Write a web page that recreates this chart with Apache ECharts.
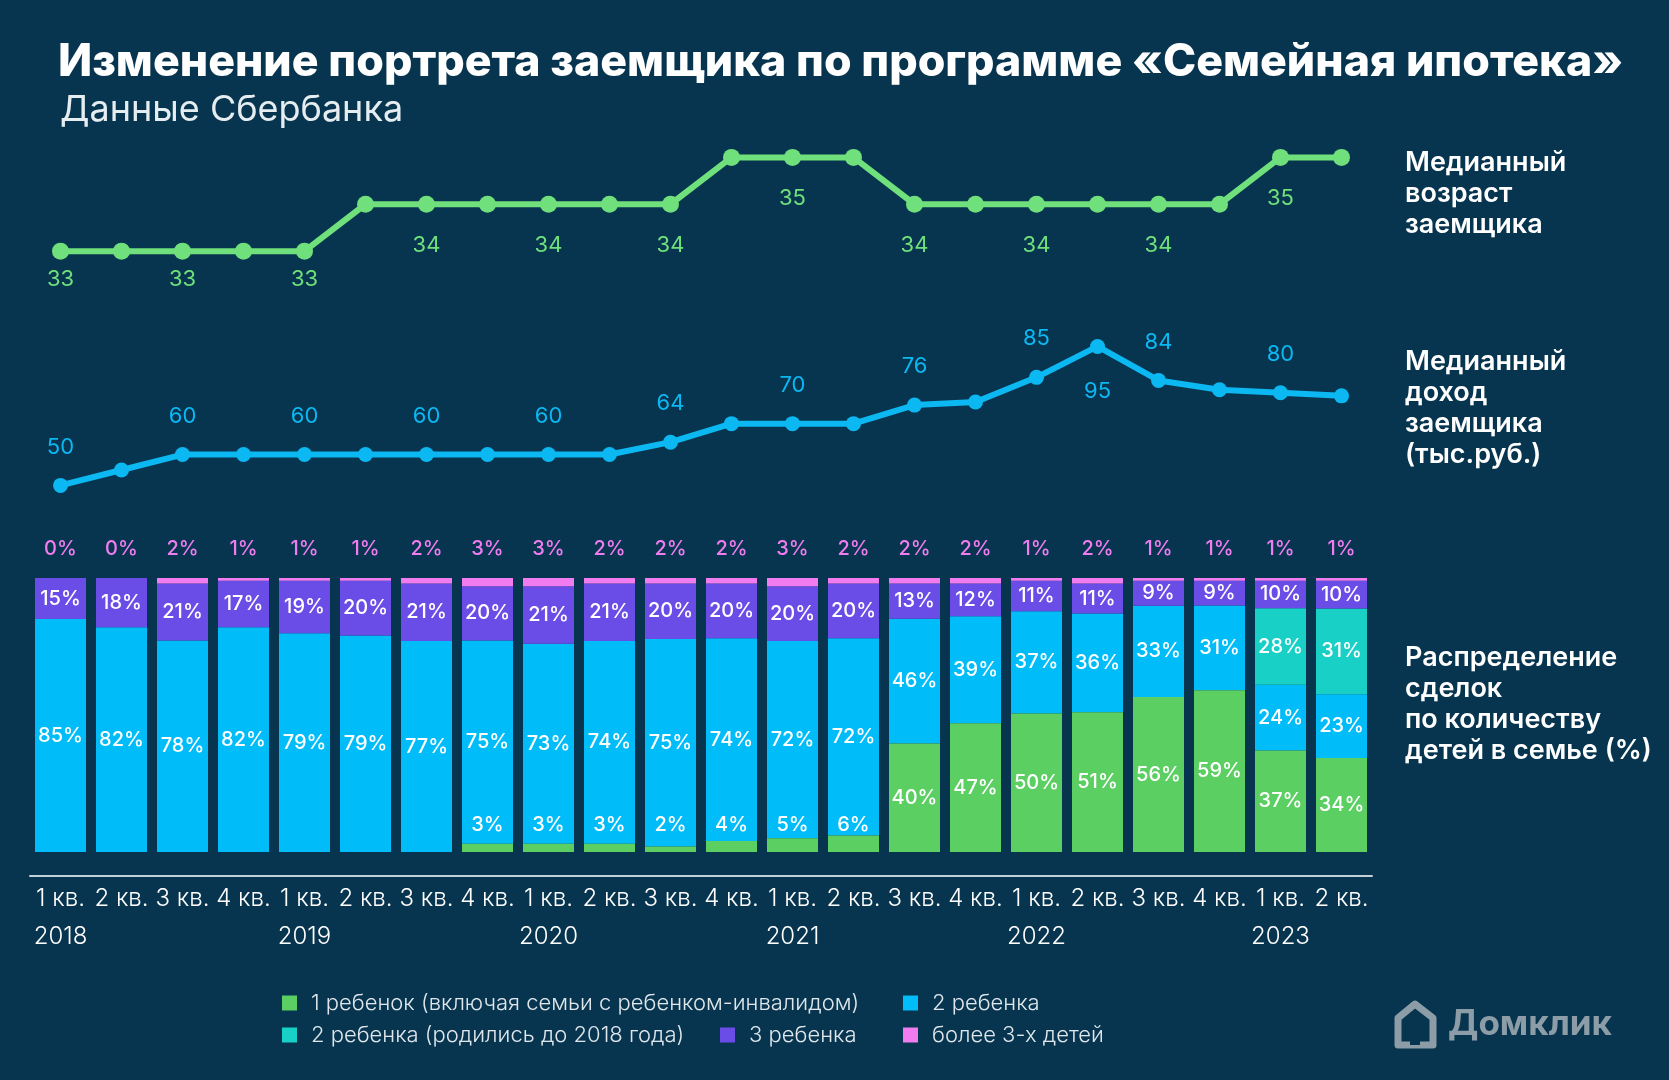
<!DOCTYPE html>
<html>
<head>
<meta charset="utf-8">
<script src="https://cdn.jsdelivr.net/npm/echarts@6/dist/echarts.min.js"></script>
<style>
html,body{margin:0;padding:0;background:#07354f;}
#c{width:1669px;height:1080px;}
</style>
</head>
<body>
<div id="c"></div>
<script>
// ---------- DATA ----------
const quarters = ['1 кв.','2 кв.','3 кв.','4 кв.','1 кв.','2 кв.','3 кв.','4 кв.','1 кв.','2 кв.','3 кв.','4 кв.','1 кв.','2 кв.','3 кв.','4 кв.','1 кв.','2 кв.','3 кв.','4 кв.','1 кв.','2 кв.'];
const years = ['2018','','','','2019','','','','2020','','','','2021','','','','2022','','','','2023',''];

const medianAge = [33,33,33,33,33,34,34,34,34,34,34,35,35,35,34,34,34,34,34,34,35,35];
const ageLabelShown = [1,0,1,0,1,0,1,0,1,0,1,0,1,0,1,0,1,0,1,0,1,0];

const medianIncome = [50,55,60,60,60,60,60,60,60,60,64,70,70,70,76,77,85,95,84,81,80,79];
const incomeLabelShown = [1,0,1,0,1,0,1,0,1,0,1,0,1,0,1,0,1,1,1,0,1,0];
const incomeLabelBelow = [0,0,0,0,0,0,0,0,0,0,0,0,0,0,0,0,0,1,0,0,0,0];

const oneChild      = [0,0,0,0,0,0,0,3,3,3,2,4,5,6,40,47,50,51,56,59,37,34];
const twoChildren   = [85,82,78,82,79,79,77,75,73,74,75,74,72,72,46,39,37,36,33,31,24,23];
const twoBefore2018 = [0,0,0,0,0,0,0,0,0,0,0,0,0,0,0,0,0,0,0,0,28,31];
const threeChildren = [15,18,21,17,19,20,21,20,21,21,20,20,20,20,13,12,11,11,9,9,10,10];
const moreThanThree = [0,0,2,1,1,1,2,3,3,2,2,2,3,2,2,2,1,2,1,1,1,1];

const seriesNames = [
  '1 ребенок (включая семьи с ребенком-инвалидом)',
  '2 ребенка',
  '2 ребенка (родились до 2018 года)',
  '3 ребенка',
  'более 3-х детей'
];

// ---------- STYLE ----------
const FONT = 'Inter, "Noto Sans", sans-serif';
const C_GREEN = '#5ccf63', C_BLUE = '#00bcf9', C_TEAL = '#18d0c6', C_PURPLE = '#6a4de6', C_PINK = '#f07cf0';
const C_AGE = '#6fe07b', C_INC = '#0bb8f2';
const GL = 30, GR = 297;

const chart = echarts.init(document.getElementById('c'));

// each bar is drawn as a share of its own total (rounded source shares do not add up to exactly 100)
const stackArrays = [oneChild, twoChildren, twoBefore2018, threeChildren, moreThanThree];
const totals = quarters.map((_, i) => stackArrays.reduce((s, a) => s + a[i], 0));
const shares = arr => arr.map((v, i) => v * 100 / totals[i]);

function pctLabel(arr) {
  return p => (arr[p.dataIndex] ? arr[p.dataIndex] + '%' : '');
}
function barLabel(arr) {
  return {
    show: true, position: 'inside', color: '#ffffff', fontFamily: FONT, fontSize: 20, fontWeight: 500,
    formatter: pctLabel(arr)
  };
}

function legendAt(name, left, top) {
  return {
    data: [name], left: left, top: top, padding: 0, orient: 'horizontal',
    icon: 'rect', itemWidth: 15, itemHeight: 15, itemGap: 10, selectedMode: false,
    textStyle: { color: '#dfe7ec', fontFamily: FONT, fontSize: 22, fontWeight: 300, padding: [0, 0, 0, 9] }
  };
}

const option = {
  backgroundColor: '#07354f',
  textStyle: { fontFamily: FONT },
  animation: false,
  title: [
    { text: 'Изменение портрета заемщика по программе «Семейная ипотека»', left: 58, top: 40, padding: 0,
      textStyle: { color: '#ffffff', fontFamily: FONT, fontSize: 44.7, fontWeight: 800 } },
    { text: 'Данные Сбербанка', left: 60, top: 92, padding: 0,
      textStyle: { color: '#e6edf1', fontFamily: FONT, fontSize: 36, fontWeight: 400 } },
    { text: 'Медианный\nвозраст\nзаемщика', left: 1405, top: 147, padding: 0,
      textStyle: { color: '#ffffff', fontFamily: FONT, fontSize: 27, fontWeight: 600, lineHeight: 31 } },
    { text: 'Медианный\nдоход\nзаемщика\n(тыс.руб.)', left: 1405, top: 346, padding: 0,
      textStyle: { color: '#ffffff', fontFamily: FONT, fontSize: 27, fontWeight: 600, lineHeight: 31 } },
    { text: 'Распределение\nсделок\nпо количеству\nдетей в семье (%)', left: 1405, top: 642, padding: 0,
      textStyle: { color: '#ffffff', fontFamily: FONT, fontSize: 27, fontWeight: 600, lineHeight: 31 } }
  ],
  legend: [
    legendAt(seriesNames[0], 282, 992),
    legendAt(seriesNames[1], 903, 992),
    legendAt(seriesNames[2], 282, 1024),
    legendAt(seriesNames[3], 720, 1024),
    legendAt(seriesNames[4], 903, 1024)
  ],
  grid: [
    { left: GL, right: GR, top: 110.5, height: 187.5 },
    { left: GL, right: GR, top: 331, height: 185.3 },
    { left: GL, right: GR, top: 578, height: 274 }
  ],
  xAxis: [
    { type: 'category', gridIndex: 0, data: quarters, show: false },
    { type: 'category', gridIndex: 1, data: quarters, show: false },
    { type: 'category', gridIndex: 2, data: quarters, position: 'bottom', offset: 24,
      axisLine: { show: true, onZero: false, lineStyle: { color: '#c3d2d9', width: 2 } },
      axisTick: { show: false },
      axisLabel: { interval: 0, color: '#ffffff', fontFamily: FONT, fontSize: 24, fontWeight: 300, margin: 11 } },
    { type: 'category', gridIndex: 2, data: years, position: 'bottom', offset: 24,
      axisLine: { show: false }, axisTick: { show: false },
      axisLabel: { interval: 0, color: '#ffffff', fontFamily: FONT, fontSize: 24, fontWeight: 300, margin: 49 } }
  ],
  yAxis: [
    { type: 'value', gridIndex: 0, min: 32, max: 36, show: false },
    { type: 'value', gridIndex: 1, min: 40, max: 100, show: false },
    { type: 'value', gridIndex: 2, min: 0, max: 100, show: false }
  ],
  series: [
    {
      name: 'Медианный возраст', type: 'line', xAxisIndex: 0, yAxisIndex: 0,
      symbol: 'circle', symbolSize: 17,
      lineStyle: { color: C_AGE, width: 6 }, itemStyle: { color: C_AGE },
      label: { position: 'bottom', color: C_AGE, fontFamily: FONT, fontSize: 22, fontWeight: 400 },
      data: medianAge.map((v, i) => ({
        value: v,
        label: { show: !!ageLabelShown[i], distance: v === 33 ? 9 : 22 }
      }))
    },
    {
      name: 'Медианный доход', type: 'line', xAxisIndex: 1, yAxisIndex: 1,
      symbol: 'circle', symbolSize: 15,
      lineStyle: { color: C_INC, width: 6 }, itemStyle: { color: C_INC },
      label: { color: C_INC, fontFamily: FONT, fontSize: 22, fontWeight: 400 },
      data: medianIncome.map((v, i) => ({
        value: v,
        label: { show: !!incomeLabelShown[i], position: incomeLabelBelow[i] ? 'bottom' : 'top',
                 distance: incomeLabelBelow[i] ? 26 : 20 }
      }))
    },
    {
      name: seriesNames[0], type: 'bar', stack: 'kids', xAxisIndex: 2, yAxisIndex: 2, barWidth: 51, z: 3,
      itemStyle: { color: C_GREEN },
      label: barLabel(oneChild),
      data: shares(oneChild).map((v, i) => ({
        value: v,
        label: oneChild[i] > 0 && oneChild[i] < 10 ? { position: 'insideBottom', distance: 17 } : { position: 'inside' }
      }))
    },
    {
      name: seriesNames[1], type: 'bar', stack: 'kids', xAxisIndex: 2, yAxisIndex: 2, barWidth: 51,
      itemStyle: { color: C_BLUE }, label: barLabel(twoChildren), data: shares(twoChildren)
    },
    {
      name: seriesNames[2], type: 'bar', stack: 'kids', xAxisIndex: 2, yAxisIndex: 2, barWidth: 51,
      itemStyle: { color: C_TEAL }, label: barLabel(twoBefore2018), data: shares(twoBefore2018)
    },
    {
      name: seriesNames[3], type: 'bar', stack: 'kids', xAxisIndex: 2, yAxisIndex: 2, barWidth: 51,
      itemStyle: { color: C_PURPLE }, label: barLabel(threeChildren), data: shares(threeChildren)
    },
    {
      name: seriesNames[4], type: 'bar', stack: 'kids', xAxisIndex: 2, yAxisIndex: 2, barWidth: 51,
      itemStyle: { color: C_PINK },
      label: { show: true, position: 'top', distance: 19, color: C_PINK, fontFamily: FONT, fontSize: 20, fontWeight: 500,
               formatter: p => moreThanThree[p.dataIndex] + '%' },
      data: shares(moreThanThree)
    }
  ],
  graphic: [
    { type: 'polygon', shape: { points: [[1415,1004],[1433,1018],[1433,1045],[1398,1045],[1398,1018]] },
      style: { fill: null, stroke: '#8c9da7', lineWidth: 7, lineJoin: 'round' } },
    { type: 'rect', shape: { x: 1410, y: 1026, width: 10, height: 19 }, style: { fill: '#07354f' } },
    { type: 'text', left: 1448, top: 1007,
      style: { text: 'Домклик', fill: '#8c9da7', font: '700 35px Inter, "Noto Sans", sans-serif' } }
  ]
};

chart.setOption(option);
</script>
</body>
</html>
